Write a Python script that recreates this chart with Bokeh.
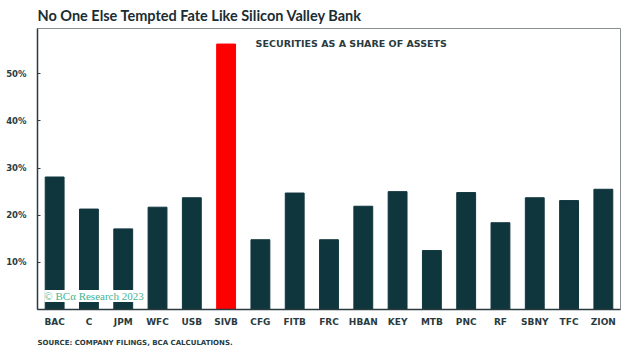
from bokeh.plotting import figure
from bokeh.models import FixedTicker, Label, Title, FactorRange, Range1d
from bokeh.embed import file_html
from bokeh.resources import INLINE

banks = ["BAC", "C", "JPM", "WFC", "USB", "SIVB", "CFG", "FITB", "FRC",
         "HBAN", "KEY", "MTB", "PNC", "RF", "SBNY", "TFC", "ZION"]
share = [28.1, 21.3, 17.1, 21.7, 23.7, 56.3, 14.8, 24.7, 14.8,
         21.9, 25.0, 12.5, 24.8, 18.4, 23.7, 23.1, 25.5]
y_ticks = [10, 20, 30, 40, 50]
y_tick_labels = {10: "10%", 20: "20%", 30: "30%", 40: "40%", 50: "50%"}

DARK = "#0f363d"
TEXT = "#2a3b40"
LABEL_FONT = "DejaVu Sans"
colors = ["#ff0000" if b == "SIVB" else DARK for b in banks]

p = figure(width=637, height=354, x_range=FactorRange(*banks, range_padding=0),
           y_range=Range1d(0, 59.6), output_backend="svg", toolbar_location=None,
           min_border_left=37, min_border_right=17, min_border_top=4, min_border_bottom=2)

p.vbar(x=banks, top=share, width=0.55, color=colors)

p.outline_line_color = "#8a8f91"
p.outline_line_width = 1
p.xgrid.visible = False
p.ygrid.visible = False
p.background_fill_color = "white"
p.border_fill_color = "white"

p.yaxis.ticker = FixedTicker(ticks=y_ticks)
p.yaxis.major_label_overrides = y_tick_labels
p.yaxis.minor_tick_line_color = None
p.yaxis.major_tick_in = 3
p.yaxis.major_tick_out = 0
p.yaxis.axis_line_color = TEXT
p.yaxis.axis_line_width = 1.5
p.yaxis.major_tick_line_color = TEXT
p.yaxis.major_label_text_font = LABEL_FONT
p.yaxis.major_label_text_font_style = "bold"
p.yaxis.major_label_text_font_size = "8.5px"
p.yaxis.major_label_text_color = TEXT
p.yaxis.major_label_standoff = 11

p.xaxis.major_tick_line_color = None
p.xaxis.major_tick_in = 0
p.xaxis.major_tick_out = 0
p.xaxis.axis_line_color = TEXT
p.xaxis.axis_line_width = 1.5
p.xaxis.major_label_text_font = LABEL_FONT
p.xaxis.major_label_text_font_style = "bold"
p.xaxis.major_label_text_font_size = "9px"
p.xaxis.major_label_text_color = TEXT
p.xaxis.major_label_standoff = 7

p.add_layout(Label(x=6.36, y=56.5, text="SECURITIES AS A SHARE OF ASSETS",
                   text_font=LABEL_FONT, text_font_style="bold", text_font_size="9.5px",
                   text_color=TEXT, text_baseline="middle"))

p.add_layout(Label(x=0.2, y=1.6, text="© BCα Research 2023",
                   text_font="Liberation Serif", text_font_size="11px",
                   text_color="#46b394", text_baseline="bottom",
                   background_fill_color="white", background_fill_alpha=1.0))

p.add_layout(Title(text="SOURCE: COMPANY FILINGS, BCA CALCULATIONS.", align="left",
                   text_font=LABEL_FONT, text_font_style="bold", text_font_size="7px",
                   text_color=TEXT, offset=0, standoff=15), "below")

p.add_layout(Title(text="No One Else Tempted Fate Like Silicon Valley Bank", align="left",
                   text_font="Lato", text_font_style="bold",
                   text_font_size="14.5px", text_color="#1b2d33", offset=0, standoff=9), "above")

open("out.html", "w").write(file_html(p, INLINE))
